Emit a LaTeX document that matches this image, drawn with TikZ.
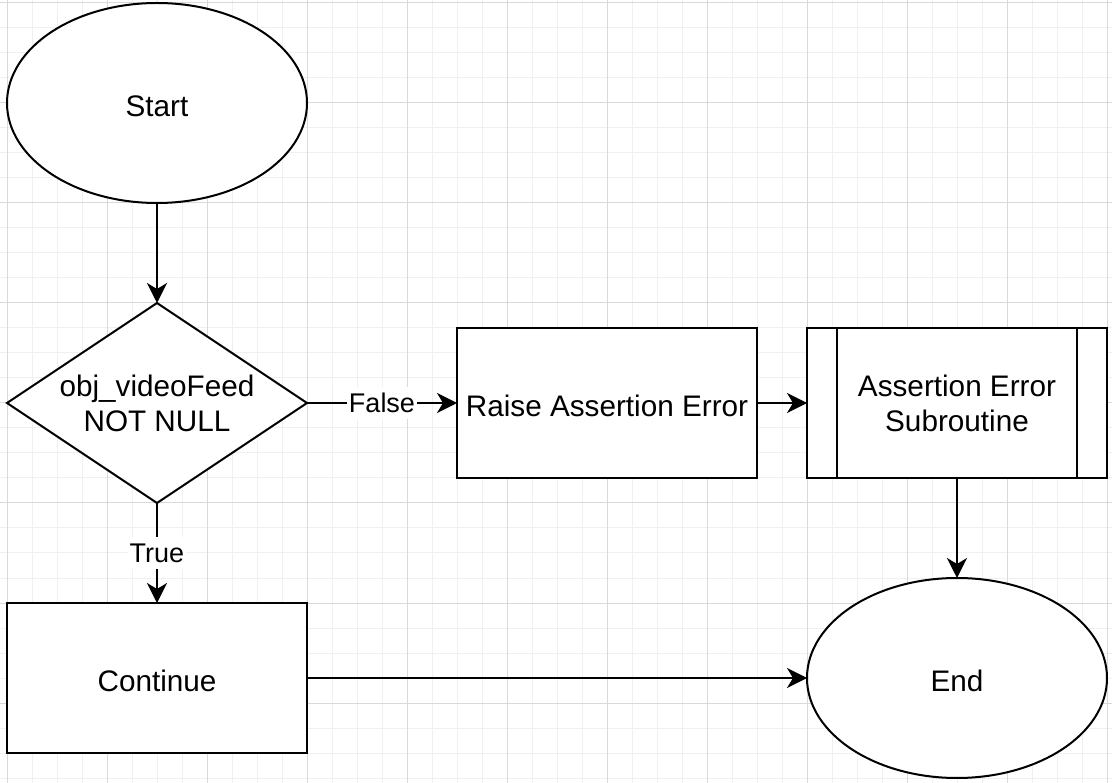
\documentclass[tikz,border=0pt]{standalone}
\usepackage{fontspec}
\setmainfont{Liberation Sans}
\usetikzlibrary{shapes.geometric,arrows.meta}
\begin{document}
\begin{tikzpicture}[x=1pt,y=-1pt,
 box/.style={draw,line width=2pt,fill=white,inner sep=0pt,outer sep=0pt,font=\fontsize{29.7}{35}\selectfont,align=center,execute at begin node={\rule{0pt}{27.5pt}}},
 term/.style={box,ellipse,minimum width=300pt,minimum height=200pt},
 proc/.style={box,rectangle,minimum width=300pt,minimum height=150pt},
 decision/.style={box,diamond,minimum width=300pt,minimum height=200pt,shape aspect=1.5},
 flow/.style={line width=2pt,-{Stealth[length=20pt,width=20pt,inset=6pt]}},
 lab/.style={fill=white,inner xsep=2pt,inner ysep=2pt,text height=24pt,text depth=4.6pt,font=\fontsize{27}{32}\selectfont},
 minorgrid/.style={black!6,line width=1pt},
 majorgrid/.style={black!15,line width=1pt}]
\useasboundingbox (0,0) rectangle (1112,783);
\fill[white] (0,0) rectangle (1112,783);
\foreach \x in {7,32,...,1107} \draw[minorgrid] (\x,0) -- (\x,783);
\foreach \y in {3,28,...,778} \draw[minorgrid] (0,\y) -- (1112,\y);
\foreach \x in {7,107,...,1107} \draw[majorgrid] (\x,0) -- (\x,783);
\foreach \y in {3,103,...,703} \draw[majorgrid] (0,\y) -- (1112,\y);

\node[term] (start) at (157,103) {Start};
\node[decision] (dec) at (157,403) {obj\_videoFeed\\NOT NULL};
\node[proc] (raise) at (607,403) {Raise Assertion Error};
\node[proc] (sub) at (957,403) {Assertion Error\\Subroutine};
\draw[line width=2pt] ([xshift=30pt]sub.north west) -- ([xshift=30pt]sub.south west);
\draw[line width=2pt] ([xshift=-30pt]sub.north east) -- ([xshift=-30pt]sub.south east);
\node[proc] (cont) at (157,678) {Continue};
\node[term] (endn) at (957,678) {End};

\draw[flow] (start) -- (dec);
\draw[flow] (dec) -- node[lab]{False} (raise);
\draw[flow] (raise) -- (sub);
\draw[flow] (sub) -- (endn);
\draw[flow] (dec) -- node[lab]{True} (cont);
\draw[flow] (cont) -- (endn);
\end{tikzpicture}
\end{document}
